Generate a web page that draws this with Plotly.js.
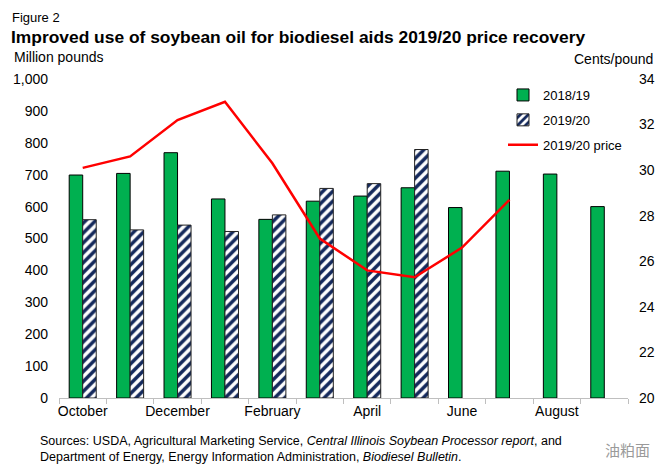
<!DOCTYPE html>
<html>
<head>
<meta charset="utf-8">
<script src="https://cdn.plot.ly/plotly-3.0.1.min.js"></script>
<style>html,body{margin:0;padding:0;background:#fff;}#chart{width:671px;height:476px;}</style>
</head>
<body>
<div id="chart"></div>
<script>
var months = ["October","November","December","January","February","March","April","May","June","July","August","September"];
var tickLabels = ["October","","December","","February","","April","","June","","August",""];
var use2018_19 = [699, 704, 769, 624, 560, 617, 633, 659, 597, 711, 702, 600];
var use2019_20 = [559, 527, 542, 522, 574, 657, 672, 779];
var price2019_20 = [30.1, 30.6, 32.2, 33.0, 30.3, 27.0, 25.6, 25.3, 26.6, 28.7];

var W = 671, H = 476, L = 59, R = 43, T = 79, B = 78;
var pw = W - L - R, ph = H - T - B;
function px(x){ return (x - L) / pw; }
function py(y){ return (H - B - y) / ph; }
var FONT = "Liberation Sans, Arial, sans-serif";

var traces = [
  {type:"bar", name:"2018/19", x:months, y:use2018_19, legendgroup:"a",
   marker:{color:"#00b050", line:{color:"#000", width:1}}},
  {type:"bar", name:"2019/20", x:months.slice(0, use2019_20.length), y:use2019_20, legendgroup:"b",
   marker:{color:"#ffffff", line:{color:"#222", width:1},
     pattern:{shape:"/", fgcolor:"#14295c", bgcolor:"#ffffff", size:7, solidity:0.5}}},
  {type:"scatter", mode:"lines", name:"2019/20 price", x:months.slice(0, price2019_20.length),
   y:price2019_20, yaxis:"y2", legendgroup:"c", line:{color:"#ff0000", width:2.5}}
];

var layout = {
  width:W, height:H,
  margin:{l:L, r:R, t:T, b:B, pad:0},
  paper_bgcolor:"#fff", plot_bgcolor:"#fff",
  font:{family:FONT, size:14, color:"#000"},
  barmode:"group", bargap:0.43, bargroupgap:0,
  showlegend:true,
  legend:{x:px(503), y:py(80), xanchor:"left", yanchor:"top", bgcolor:"rgba(0,0,0,0)",
    font:{family:FONT, size:13}, tracegroupgap:5, traceorder:"grouped"},
  xaxis:{type:"category", categoryorder:"array", categoryarray:months,
    tickvals:months, ticktext:tickLabels, tickson:"boundaries",
    ticks:"outside", ticklen:5, tickcolor:"#bfbfbf", showline:true, linecolor:"#bfbfbf", linewidth:1,
    showgrid:false, zeroline:false, tickfont:{size:14}, tickangle:0},
  yaxis:{range:[0,1000], dtick:100, tickformat:",d", showgrid:false, zeroline:false, showline:false,
    ticks:"", ticklabelstandoff:10, tickfont:{size:14}},
  yaxis2:{range:[20,34], dtick:2, overlaying:"y", side:"right", showgrid:false, zeroline:false,
    showline:false, ticks:"", ticklabelstandoff:10, tickfont:{size:14}},
  annotations:[
    {text:"Figure 2", xref:"paper", yref:"paper", x:px(10), y:py(17), xanchor:"left", yanchor:"middle",
     showarrow:false, font:{size:13}},
    {text:"<b>Improved use of soybean oil for biodiesel aids 2019/20 price recovery</b>", xref:"paper", yref:"paper",
     x:px(9), y:py(37), xanchor:"left", yanchor:"middle", showarrow:false, font:{size:17.4}},
    {text:"Million pounds", xref:"paper", yref:"paper", x:px(12), y:py(57), xanchor:"left", yanchor:"middle",
     showarrow:false, font:{size:14}},
    {text:"Cents/pound", xref:"paper", yref:"paper", x:px(655), y:py(59), xanchor:"right", yanchor:"middle",
     showarrow:false, font:{size:14}},
    {text:"Sources: USDA, Agricultural Marketing Service, <i>Central Illinois Soybean Processor report</i>, and<br>Department of Energy, Energy Information Administration, <i>Biodiesel Bulletin</i>.",
     xref:"paper", yref:"paper", x:px(38), y:py(449), xanchor:"left", yanchor:"middle", align:"left",
     showarrow:false, font:{size:12.5}},
    {text:"油粕面", xref:"paper", yref:"paper", x:px(652), y:py(449), xanchor:"right", yanchor:"middle",
     showarrow:false, font:{family:"Noto Sans CJK SC, sans-serif", size:15, color:"#9a9a9a"}}
  ]
};

Plotly.newPlot("chart", traces, layout, {displayModeBar:false, staticPlot:true});
</script>
</body>
</html>
